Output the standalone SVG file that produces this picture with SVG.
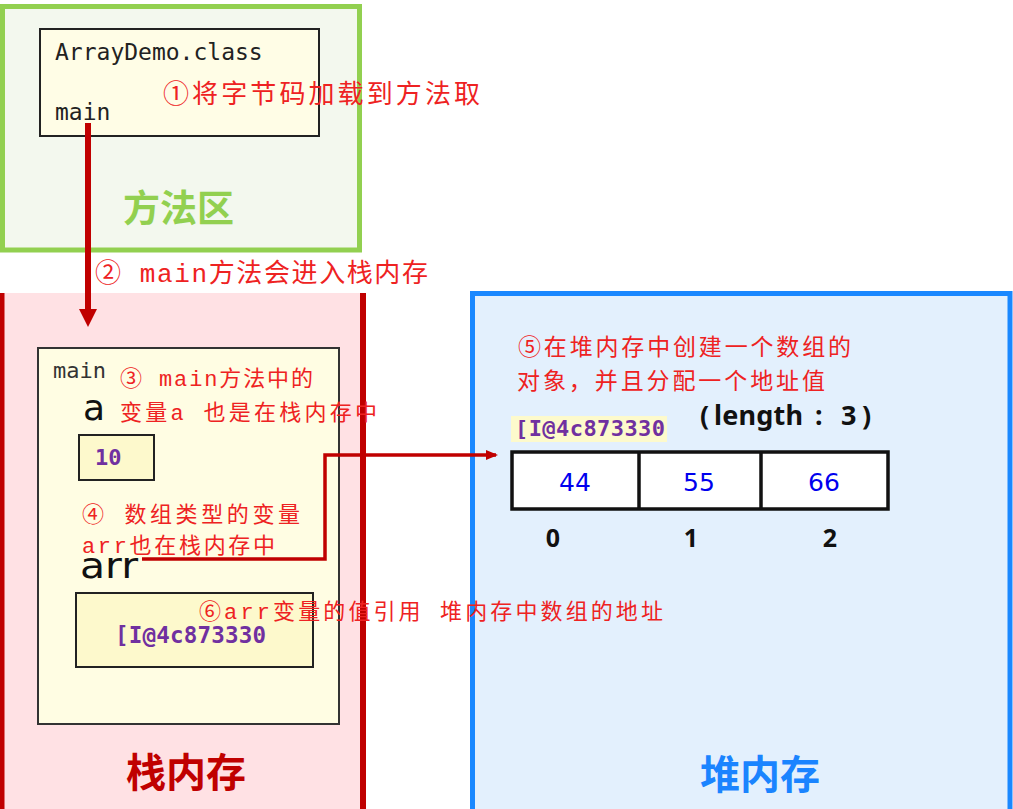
<svg xmlns="http://www.w3.org/2000/svg" width="1013" height="809" viewBox="0 0 1013 809">
<style>
.mono{font-family:"DejaVu Sans Mono","Liberation Mono",monospace;}
.note{font-family:"Liberation Mono","Noto Sans CJK SC",monospace;fill:#ee2222;}
.addr{font-family:"DejaVu Sans Mono","Liberation Mono",monospace;font-weight:bold;fill:#7030a0;}
.big{font-family:"Noto Sans CJK SC",sans-serif;font-weight:bold;}
.val{font-family:"DejaVu Sans","Noto Sans",sans-serif;fill:#0000ee;font-size:25px;text-anchor:middle;}
.idx{font-family:"Noto Sans","DejaVu Sans",sans-serif;font-weight:bold;fill:#111;font-size:25px;text-anchor:middle;}
.conn{stroke:#c00000;fill:none;}
</style>
<defs>
<marker id="ah" markerWidth="12" markerHeight="12" refX="10" refY="5" orient="auto" markerUnits="userSpaceOnUse">
<path d="M0,0 L12,5 L0,10 Z" fill="#c00000"/>
</marker>
</defs>
<rect width="1013" height="809" fill="#ffffff"/>

<g id="method-area">
<rect x="2.5" y="6.5" width="357" height="243.5" fill="#f3f8ee" stroke="#92d050" stroke-width="5"/>
<text x="123" y="222" class="big" font-size="37" fill="#92d050">方法区</text>
</g>

<g id="class-box">
<rect x="40" y="29" width="279" height="107" fill="#fffde6" stroke="#222" stroke-width="2"/>
<text x="55" y="60" class="mono" font-size="23" fill="#222">ArrayDemo.class</text>
<text x="55" y="120" class="mono" font-size="23" fill="#222">main</text>
</g>

<g id="stack-area">
<rect x="0" y="293" width="363" height="516" fill="#ffe1e4"/>
<line x1="2" y1="293" x2="2" y2="809" stroke="#c00000" stroke-width="5"/>
<line x1="363" y1="293" x2="363" y2="809" stroke="#c00000" stroke-width="6"/>
<text x="126" y="787" class="big" font-size="40" fill="#c00000">栈内存</text>
</g>

<g id="heap-area">
<rect x="472.5" y="293.5" width="537.5" height="530" fill="#e3f0fd" stroke="#1a88ff" stroke-width="5"/>
<text x="700" y="789" class="big" font-size="40" fill="#1a84ff">堆内存</text>
</g>

<g id="main-frame">
<rect x="38" y="348" width="301" height="376" fill="#fffde3" stroke="#333" stroke-width="2"/>
<text x="53" y="378" class="mono" font-size="22" fill="#333">main</text>
<text x="83" y="420" font-family="DejaVu Sans,sans-serif" font-size="36" fill="#111">a</text>
<text x="80" y="578" font-family="DejaVu Sans,sans-serif" font-size="36" fill="#111" textLength="58" lengthAdjust="spacingAndGlyphs">arr</text>
</g>

<g id="var-a">
<rect x="79" y="435" width="75" height="45" fill="#fdf9cc" stroke="#222" stroke-width="2"/>
<text x="95" y="465" class="addr" font-size="22">10</text>
</g>

<g id="var-arr">
<rect x="76" y="593" width="237" height="74" fill="#fdf9cc" stroke="#222" stroke-width="2"/>
<text x="115" y="643" class="addr" font-size="22.5" textLength="151">[I@4c873330</text>
</g>

<g id="heap-array">
<rect x="511" y="416" width="156" height="26" fill="#fdfacc"/>
<text x="515" y="436" class="addr" font-size="22" textLength="150">[I@4c873330</text>
<text y="425" font-family="Noto Sans,DejaVu Sans,sans-serif" font-weight="bold" font-size="27" fill="#111"><tspan x="700">(</tspan><tspan x="714" textLength="89">length</tspan><tspan x="815">:</tspan><tspan x="841">3</tspan><tspan x="862">)</tspan></text>
<rect x="512" y="452" width="376" height="57" fill="#ffffff" stroke="#111" stroke-width="3.5"/>
<line x1="639" y1="452" x2="639" y2="509" stroke="#111" stroke-width="3.5"/>
<line x1="761" y1="452" x2="761" y2="509" stroke="#111" stroke-width="3.5"/>
<text x="575" y="491" class="val">44</text>
<text x="699" y="491" class="val">55</text>
<text x="824" y="491" class="val">66</text>
<text x="553" y="547" class="idx">0</text>
<text x="691" y="547" class="idx">1</text>
<text x="830" y="547" class="idx">2</text>
</g>

<g id="connectors">
<line x1="88" y1="123" x2="88" y2="311" class="conn" stroke-width="6"/>
<path d="M79,309 L97,309 L88,327 Z" fill="#c00000"/>
<path d="M142,559 L325,559 L325,455 L496,455" class="conn" stroke-width="3.5" marker-end="url(#ah)"/>
</g>

<g id="notes">
<text x="163" y="103" class="note" font-size="26" textLength="317">①将字节码加载到方法取</text>
<text x="95" y="282" class="note" font-size="26" textLength="333">② main方法会进入栈内存</text>
<text x="120" y="386" class="note" font-size="22" textLength="193">③ main方法中的</text>
<text x="120" y="420" class="note" font-size="22" textLength="257">变量a 也是在栈内存中</text>
<text x="82" y="522" class="note" font-size="22" textLength="218">④ 数组类型的变量</text>
<text x="82" y="553" class="note" font-size="22" textLength="193">arr也在栈内存中</text>
<text x="199" y="619" class="note" font-size="22" textLength="464">⑥arr变量的值引用 堆内存中数组的地址</text>
<text x="518" y="355" class="note" font-size="23" textLength="333">⑤在堆内存中创建一个数组的</text>
<text x="517" y="389" class="note" font-size="23" textLength="308">对象，并且分配一个地址值</text>
</g>
</svg>
